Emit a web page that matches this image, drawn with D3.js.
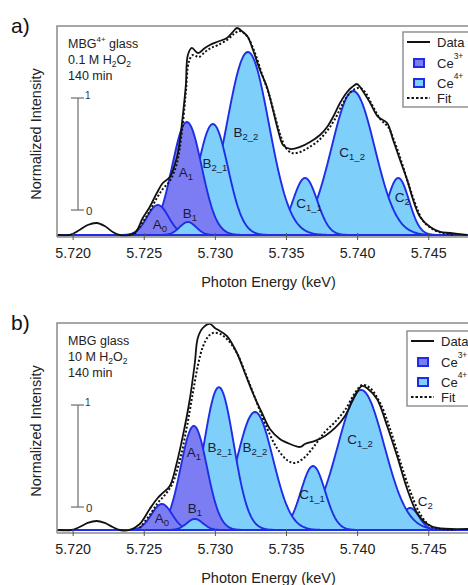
<!DOCTYPE html>
<html><head><meta charset="utf-8">
<script src="https://cdn.jsdelivr.net/npm/d3@7"></script>
<style>body{margin:0;background:#fff;} svg{display:block;font-family:"Liberation Sans",Arial,sans-serif;}</style>
</head><body><svg id="chart" width="468" height="585"></svg>
<script>
// ---------- data ----------
const xTicks = [5.720, 5.725, 5.730, 5.735, 5.740, 5.745];
const compNames = ["A0", "A1", "B1", "B2_1", "B2_2", "C1_1", "C1_2", "C2"];
const compType  = ["Ce3+", "Ce3+", "Ce4+", "Ce4+", "Ce4+", "Ce4+", "Ce4+", "Ce4+"];
const drawOrder = ["C2", "C1_2", "C1_1", "B2_2", "B2_1", "A1", "A0", "B1"];

// panel a) components: centre (keV), amplitude, width (keV)
const aCenter = [5.72599, 5.72803, 5.72810, 5.72986, 5.73232, 5.73634, 5.73972, 5.74289];
const aAmp    = [0.268, 1.009, 0.116, 0.991, 1.634, 0.509, 1.286, 0.509];
const aSigma  = [0.00075, 0.00104, 0.00058, 0.00106, 0.00148, 0.00085, 0.00152, 0.00076];
const aLabelE = [5.72613, 5.72796, 5.72824, 5.73000, 5.73218, 5.73662, 5.73965, 5.74317];
const aLabelI = [0.054, 0.518, 0.152, 0.598, 0.875, 0.241, 0.696, 0.295];
const aScaleBar = [0.223, 1.223];

// panel b) components
const bCenter = [5.72627, 5.72852, 5.72859, 5.73028, 5.73282, 5.73690, 5.74028, 5.74373];
const bAmp    = [0.255, 1.020, 0.108, 1.400, 1.157, 0.627, 1.373, 0.216];
const bSigma  = [0.00072, 0.00092, 0.00058, 0.00104, 0.00126, 0.00085, 0.00162, 0.00062];
const bLabelE = [5.72627, 5.72852, 5.72859, 5.73035, 5.73282, 5.73683, 5.74021, 5.74479];
const bLabelI = [0.069, 0.716, 0.167, 0.765, 0.765, 0.304, 0.843, 0.235];
const bScaleBar = [0.225, 1.225];

// panel a) measured data and fit
const aData = [[5.71894,0],[5.71979,0],[5.72049,0.045],[5.72106,0.089],[5.72169,0.107],[5.72225,0.080],[5.72282,0.027],[5.72331,0],[5.72401,0],[5.72444,0.027],[5.72493,0.152],[5.72542,0.25],[5.72592,0.375],[5.72634,0.464],[5.72683,0.518],[5.72732,0.688],[5.72754,0.848],[5.72775,1.071],[5.72796,1.339],[5.72810,1.607],[5.72838,1.670],[5.72880,1.625],[5.72930,1.670],[5.72965,1.696],[5.73014,1.723],[5.73085,1.759],[5.73127,1.813],[5.73155,1.848],[5.73197,1.813],[5.73232,1.768],[5.73268,1.652],[5.73317,1.473],[5.73366,1.321],[5.73409,1.116],[5.73444,0.938],[5.73479,0.804],[5.73528,0.768],[5.73599,0.786],[5.73669,0.830],[5.73739,0.893],[5.73789,0.964],[5.73831,1.054],[5.73880,1.179],[5.73930,1.277],[5.73965,1.321],[5.74000,1.348],[5.74035,1.295],[5.74092,1.179],[5.74148,1.054],[5.74211,1.000],[5.74253,0.848],[5.74302,0.670],[5.74352,0.491],[5.74394,0.313],[5.74443,0.161],[5.74514,0.071],[5.74584,0.027],[5.74654,0.018],[5.74774,0]];
const aFit = [[5.72436,0.009],[5.72493,0.116],[5.72542,0.214],[5.72592,0.330],[5.72634,0.411],[5.72683,0.482],[5.72732,0.634],[5.72768,0.920],[5.72796,1.277],[5.72817,1.545],[5.72845,1.607],[5.72887,1.589],[5.72930,1.634],[5.72972,1.670],[5.73021,1.696],[5.73085,1.741],[5.73134,1.795],[5.73169,1.821],[5.73204,1.804],[5.73239,1.750],[5.73282,1.625],[5.73331,1.438],[5.73380,1.259],[5.73422,1.063],[5.73458,0.902],[5.73500,0.777],[5.73542,0.732],[5.73599,0.741],[5.73655,0.777],[5.73725,0.839],[5.73789,0.929],[5.73845,1.036],[5.73894,1.161],[5.73943,1.259],[5.73986,1.304],[5.74021,1.313],[5.74056,1.277],[5.74106,1.161],[5.74162,1.036],[5.74218,0.964],[5.74267,0.821],[5.74317,0.634],[5.74366,0.438],[5.74415,0.259],[5.74464,0.125],[5.74528,0.054],[5.74598,0.018],[5.74690,0]];

// panel b) measured data and fit
const bData = [[5.71894,0],[5.71993,0],[5.72049,0.029],[5.72106,0.069],[5.72169,0.088],[5.72225,0.069],[5.72282,0.029],[5.72331,0],[5.72401,0],[5.72472,0.059],[5.72542,0.206],[5.72598,0.314],[5.72634,0.363],[5.72683,0.431],[5.72732,0.657],[5.72775,0.922],[5.72824,1.284],[5.72859,1.637],[5.72880,1.882],[5.72915,1.980],[5.72965,2.020],[5.73000,1.980],[5.73035,1.951],[5.73084,1.902],[5.73155,1.735],[5.73211,1.539],[5.73267,1.343],[5.73331,1.147],[5.73387,0.990],[5.73457,0.892],[5.73528,0.843],[5.73599,0.814],[5.73634,0.843],[5.73704,0.873],[5.73774,0.922],[5.73845,1.000],[5.73915,1.118],[5.73985,1.314],[5.74035,1.412],[5.74077,1.382],[5.74140,1.284],[5.74211,1.020],[5.74281,0.725],[5.74352,0.402],[5.74422,0.167],[5.74492,0.059],[5.74563,0.020],[5.74781,0.010]];
const bFit = [[5.72472,0.020],[5.72542,0.147],[5.72598,0.265],[5.72648,0.343],[5.72697,0.441],[5.72754,0.686],[5.72803,1.010],[5.72845,1.343],[5.72880,1.608],[5.72915,1.794],[5.72951,1.892],[5.72986,1.931],[5.73035,1.922],[5.73091,1.863],[5.73155,1.735],[5.73225,1.500],[5.73296,1.245],[5.73366,1.000],[5.73436,0.804],[5.73507,0.686],[5.73563,0.657],[5.73634,0.716],[5.73704,0.833],[5.73774,0.961],[5.73845,1.059],[5.73915,1.176],[5.73985,1.343],[5.74035,1.422],[5.74091,1.392],[5.74162,1.245],[5.74232,0.990],[5.74302,0.676],[5.74373,0.382],[5.74443,0.157],[5.74514,0.039],[5.74584,0.010],[5.74690,0]];

const aInfo = [["MBG", "4+", " glass"], ["0.1 M H", "2", "O", "2"], ["140 min"]];
const bInfo = [["MBG glass"], ["10 M H", "2", "O", "2"], ["140 min"]];

// ---------- styles ----------
const FILL3 = "#7d7df3", FILL4 = "#7ecffa", STROKE = "#1f2ee6", GRAY = "#8a8a8a";

const svg = d3.select("#chart");
const x = d3.scaleLinear().domain([5.7189, 5.7485]).range([57, 478]);

const panels = [
  {tag:"a)", top:26, base:235, axisY:237, yMax:1.866, data:aData, fit:aFit, center:aCenter, amp:aAmp, sigma:aSigma,
   labE:aLabelE, labI:aLabelI, bar:aScaleBar, info:aInfo, infoY:[48,64,80], lx:403, ly:32, ylabY:134},
  {tag:"b)", top:323, base:530, axisY:533, yMax:2.029, data:bData, fit:bFit, center:bCenter, amp:bAmp, sigma:bSigma,
   labE:bLabelE, labI:bLabelI, bar:bScaleBar, info:bInfo, infoY:[345,361,377], lx:407, ly:331, ylabY:431}
];

panels.forEach((p, pi) => {
  const y = d3.scaleLinear().domain([0, p.yMax]).range([p.base, p.top]);
  const g = svg.append("g");
  const clipId = "clip" + pi;
  svg.append("clipPath").attr("id", clipId).append("rect")
    .attr("x", 57).attr("y", p.top).attr("width", 420).attr("height", p.axisY - p.top);
  const plot = g.append("g").attr("clip-path", `url(#${clipId})`);

  // components
  drawOrder.forEach(name => {
    const i = compNames.indexOf(name);
    const c = p.center[i], s = p.sigma[i], A = p.amp[i];
    const pts = d3.range(0, 121).map(k => {
      const e = c - 4.5 * s + k * (9 * s / 120);
      return [e, A * Math.exp(-0.5 * ((e - c) / s) ** 2)];
    });
    plot.append("path").datum(pts)
      .attr("d", d3.area().x(d => x(d[0])).y0(y(0)).y1(d => y(d[1])).curve(d3.curveLinear))
      .attr("fill", compType[i] === "Ce3+" ? FILL3 : FILL4)
      .attr("stroke", STROKE).attr("stroke-width", 1.9).attr("stroke-linejoin", "round");
  });
  // blue baseline
  plot.append("line").attr("x1", x(5.7189)).attr("x2", x(5.7485)).attr("y1", y(0)).attr("y2", y(0))
    .attr("stroke", STROKE).attr("stroke-width", 2);

  // data & fit
  const line = d3.line().x(d => x(d[0])).y(d => y(d[1])).curve(d3.curveCatmullRom.alpha(0.5));
  plot.append("path").datum(p.fit).attr("d", line).attr("fill", "none")
    .attr("stroke", "#111").attr("stroke-width", 2).attr("stroke-dasharray", "2,2");
  plot.append("path").datum(p.data).attr("d", line).attr("fill", "none")
    .attr("stroke", "#111").attr("stroke-width", 1.8);

  // component labels
  compNames.forEach((name, i) => {
    const t = g.append("text").attr("x", x(p.labE[i])).attr("y", y(p.labI[i]))
      .attr("text-anchor", "middle").attr("font-size", 13.5).attr("fill", "#1a1a3a");
    t.append("tspan").text(name[0]);
    t.append("tspan").attr("font-size", 9.5).attr("dy", 3).text(name.slice(1));
  });

  // frame
  g.append("path").attr("d", `M57,${p.axisY}V${p.top}H468`).attr("fill", "none")
    .attr("stroke", GRAY).attr("stroke-width", 1.5);
  // x axis
  const ax = g.append("g").attr("transform", `translate(0,${p.axisY})`)
    .call(d3.axisBottom(x).tickValues(xTicks).tickFormat(d3.format(".3f")).tickSize(4).tickPadding(7));
  ax.select(".domain").attr("d", "M57,0H468").attr("stroke", GRAY).attr("stroke-width", 1.5);
  ax.selectAll(".tick line").attr("stroke", "#555").attr("y1", -4).attr("y2", 3);
  ax.selectAll(".tick text").attr("font-size", 14.3).attr("fill", "#222")
    .attr("font-family", "Liberation Sans, Arial, sans-serif");
  g.append("text").attr("x", 268.5).attr("y", p.axisY + 50).attr("text-anchor", "middle")
    .attr("font-size", 14.5).attr("fill", "#222").text("Photon Energy (keV)");
  g.append("text").attr("transform", `translate(41,${p.ylabY}) rotate(-90)`).attr("text-anchor", "middle")
    .attr("font-size", 14.5).attr("fill", "#222").text("Normalized Intensity");

  // panel tag
  g.append("text").attr("x", 11).attr("y", p.top + 7).attr("font-size", 21).attr("fill", "#111").text(p.tag);

  // info text
  p.info.forEach((parts, li) => {
    const t = g.append("text").attr("x", 68).attr("y", p.infoY[li]).attr("font-size", 12.5).attr("fill", "#222");
    if (parts.length === 1) t.text(parts[0]);
    else if (parts.length === 3) {
      t.append("tspan").text(parts[0]);
      t.append("tspan").attr("font-size", 8).attr("dy", -6).text(parts[1]);
      t.append("tspan").attr("dy", 6).text(parts[2]);
    } else {
      t.append("tspan").text(parts[0]);
      t.append("tspan").attr("font-size", 8.5).attr("dy", 3).text(parts[1]);
      t.append("tspan").attr("dy", -3).text(parts[2]);
      t.append("tspan").attr("font-size", 8.5).attr("dy", 3).text(parts[3]);
    }
  });

  // scale bar
  const sb = g.append("g").attr("stroke", "#777").attr("stroke-width", 1.3);
  sb.append("line").attr("x1", 78).attr("x2", 78).attr("y1", y(p.bar[0])).attr("y2", y(p.bar[1]));
  p.bar.forEach(v => sb.append("line").attr("x1", 71).attr("x2", 84).attr("y1", y(v)).attr("y2", y(v)));
  g.append("text").attr("x", 85).attr("y", y(p.bar[1]) + 1).attr("font-size", 10).attr("fill", "#333").text("1");
  g.append("text").attr("x", 86).attr("y", y(p.bar[0]) + 4.5).attr("font-size", 11.5).attr("fill", "#333").text("0");

  // legend
  const L = g.append("g").attr("transform", `translate(${p.lx},${p.ly})`);
  L.append("rect").attr("width", 75).attr("height", 75).attr("fill", "#fff")
    .attr("stroke", GRAY).attr("stroke-width", 1.4);
  L.append("line").attr("x1", 4).attr("x2", 27).attr("y1", 10).attr("y2", 10).attr("stroke", "#111").attr("stroke-width", 2);
  L.append("line").attr("x1", 4).attr("x2", 27).attr("y1", 66).attr("y2", 66).attr("stroke", "#111")
    .attr("stroke-width", 2).attr("stroke-dasharray", "2.5,2");
  [[FILL3, 27, "3+"], [FILL4, 47, "4+"]].forEach(([f, yy, sup]) => {
    L.append("rect").attr("x", 11).attr("y", yy).attr("width", 10).attr("height", 8)
      .attr("fill", f).attr("stroke", STROKE).attr("stroke-width", 2);
    const t = L.append("text").attr("x", 34).attr("y", yy + 9).attr("font-size", 13).attr("fill", "#222");
    t.append("tspan").text("Ce");
    t.append("tspan").attr("font-size", 8.5).attr("dy", -9).text(sup);
  });
  L.append("text").attr("x", 34).attr("y", 15).attr("font-size", 13).attr("fill", "#222").text("Data");
  L.append("text").attr("x", 34).attr("y", 71).attr("font-size", 13).attr("fill", "#222").text("Fit");
});
</script></body></html>
